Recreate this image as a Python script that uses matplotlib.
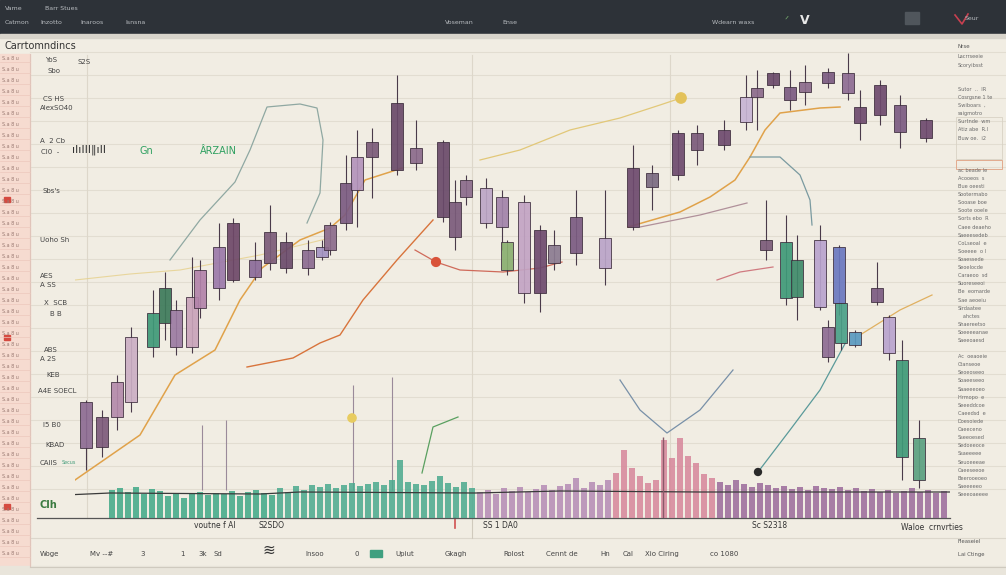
import matplotlib
matplotlib.use("Agg")
import matplotlib.pyplot as plt
from matplotlib.patches import Rectangle

# ---- data ----
# candles: session position, open, close, high, low (price units)
cdl_t = [86, 102, 117, 131, 153, 165, 176, 192, 200, 219, 233, 255, 270, 286, 308, 322,
         330, 346, 357, 372, 397, 416, 443, 455, 466, 486, 502, 507, 524, 540, 554, 576,
         605, 633, 652, 678, 697, 724, 746, 757, 773, 790, 805, 828, 848, 860, 880, 900,
         926, 766, 786, 797, 820, 839, 841, 828, 855, 877, 889, 902, 919]
cdl_open = [52, 53, 83, 98, 153, 177, 153, 153, 192, 212, 220, 223, 237, 232, 232, 243,
            250, 277, 310, 343, 330, 337, 283, 263, 303, 277, 273, 230, 207, 207, 237, 247,
            232, 273, 313, 325, 350, 355, 378, 403, 415, 400, 408, 417, 407, 377, 385, 368,
            362, 250, 202, 203, 193, 197, 157, 143, 155, 198, 147, 43, 20]
cdl_close = [98, 83, 118, 163, 187, 212, 190, 203, 230, 253, 277, 240, 268, 258, 250, 253,
             275, 317, 343, 358, 397, 352, 358, 298, 320, 312, 303, 258, 298, 270, 255, 283,
             262, 332, 327, 367, 367, 370, 403, 412, 427, 413, 418, 428, 427, 393, 415, 395,
             380, 260, 258, 240, 260, 253, 197, 173, 168, 212, 183, 140, 62]
cdl_high = [100, 90, 125, 173, 210, 228, 200, 243, 240, 277, 282, 258, 295, 268, 260, 260,
            278, 345, 370, 372, 425, 380, 360, 320, 325, 322, 310, 260, 305, 275, 270, 310,
            310, 355, 335, 370, 375, 380, 425, 430, 428, 430, 435, 432, 447, 410, 420, 405,
            382, 300, 285, 265, 275, 255, 197, 180, 170, 238, 185, 160, 80]
cdl_low = [30, 43, 70, 88, 143, 160, 145, 147, 182, 200, 218, 220, 230, 227, 225, 240,
           245, 270, 273, 302, 325, 330, 278, 250, 295, 272, 250, 225, 197, 188, 230, 235,
           215, 270, 290, 320, 335, 350, 370, 370, 412, 390, 395, 412, 400, 360, 375, 352,
           358, 240, 195, 180, 190, 185, 150, 138, 153, 195, 140, 20, 12]
cdl_colors = ["#8d6c93", "#7d5a7b", "#b48aab", "#cbaec4", "#3f9a78", "#3d7a5a", "#9b7ba2",
              "#c9a3ba", "#b283aa", "#9b79aa", "#6e4868", "#8b6b99", "#7b5b79", "#6b4b6b",
              "#8b6b91", "#a393c2", "#8b6b8b", "#7b5b81", "#b393bb", "#7b5b79", "#6a4a6a",
              "#8b6b8b", "#6a4a6a", "#7b5b7b", "#8b6b8b", "#bca6c6", "#a283aa", "#8ab070",
              "#c3a4c4", "#6e4a6e", "#8b7b91", "#7b5b81", "#baa4c8", "#6e4a6e", "#7b6b81",
              "#6e4a6e", "#7b5b7b", "#6e4a6e", "#c7b4d4", "#8b6b8b", "#6a4a6a", "#7b5b81",
              "#8b6b8b", "#7b5b81", "#8d6c93", "#6e4a6e", "#6e4a6e", "#7b5b81", "#6e4a6e",
              "#7b5b79", "#3f9a78", "#3f8a6a", "#b9a3ce", "#6a78c0", "#4aa088", "#8d6c93",
              "#5a9ac0", "#7b5b81", "#b9a3ce", "#3f9a78", "#5aa080"]

# moving averages / overlays (session, price)
ma_orange_t = [75, 140, 175, 215, 240, 262, 300, 330, 345, 365, 390, 402]
ma_orange_v = [20, 65, 125, 150, 200, 232, 260, 272, 285, 320, 328, 332]
ma_red_t = [247, 293, 320, 340, 363, 397, 433]
ma_red_v = [133, 142, 157, 165, 200, 240, 280]
sig_red_t = [415, 436, 460, 503, 540, 562]
sig_red_v = [250, 238, 230, 228, 232, 238]
ma_teal_t = [170, 200, 235, 250, 267, 300, 317, 323, 320, 307]
ma_teal_v = [240, 280, 318, 350, 393, 396, 392, 360, 307, 277]
ma_yellow_t = [75, 130, 180, 260, 330]
ma_yellow_v = [220, 226, 230, 245, 262]
ma_orange2_t = [628, 680, 710, 735, 750, 765, 780, 820, 840]
ma_orange2_v = [273, 288, 303, 320, 343, 370, 387, 392, 393]
ma_grey_t = [750, 780, 800, 810, 812]
ma_grey_v = [343, 343, 325, 300, 275]
ma_gold_t = [480, 520, 570, 620, 660, 681]
ma_gold_v = [340, 350, 370, 382, 395, 402]
ma_mauve_t = [640, 700, 747]
ma_mauve_v = [273, 285, 297]
ma_pink_t = [717, 740, 773]
ma_pink_v = [220, 228, 233]
ma_blue_t = [620, 640, 667, 700, 733]
ma_blue_v = [120, 90, 67, 90, 130]
ma_green_t = [758, 790, 820, 847]
ma_green_v = [28, 70, 110, 160]
ma_orange3_t = [860, 900, 932]
ma_orange3_v = [165, 190, 205]
sig_green_t = [422, 433, 458]
sig_green_v = [27, 73, 83]
dots_t = [436, 681, 352, 758]
dots_v = [238, 402, 82, 28]
dots_col = ["#d9533a", "#e3c25a", "#e8cc60", "#2a2a2a"]
spikes_t = [202, 226, 353, 392]
spikes_top = [75, 80, 115, 123]

# volume bars (session, volume)
vol_t = list(range(112, 945, 8))
vol = [28, 30, 26, 31, 24, 29, 27, 22, 25, 20, 24, 26, 23, 25, 24, 27, 22, 26, 28, 25,
       23, 30, 26, 32, 28, 33, 31, 34, 30, 33, 35, 32, 34, 36, 33, 38, 58, 36, 34, 33,
       37, 42, 35, 31, 36, 30, 26, 28, 24, 30, 27, 31, 26, 29, 33, 28, 32, 34, 40, 30,
       36, 33, 38, 45, 68, 50, 42, 35, 38, 78, 60, 80, 62, 55, 44, 40, 36, 33, 38, 34,
       31, 35, 33, 30, 32, 29, 31, 28, 32, 30, 29, 31, 28, 30, 27, 29, 26, 28, 25, 27,
       30, 26, 28, 25, 27]
vol_line_t = [65, 110, 260, 300, 475, 560, 700, 950]
vol_line_v = [23, 25, 24, 26, 25, 27, 26, 26]

x_labels = ["voutne f Al", "S2SDO", "SS 1 DA0", "Sc S2318"]
x_label_t = [215, 272, 500, 770]

BG = "#f1ede3"
fig = plt.figure(figsize=(10.06, 5.75), dpi=100, facecolor=BG)

# decoration layer in pixel space
bg = fig.add_axes([0, 0, 1, 1])
bg.set_xlim(0, 1006)
bg.set_ylim(575, 0)
bg.axis("off")
bg.set_facecolor(BG)

bg.add_patch(Rectangle((0, 0), 1006, 34, color="#2d3238"))
bg.add_patch(Rectangle((0, 34), 1006, 4, color="#d8d4cb"))
bg.add_patch(Rectangle((0, 54), 30, 512, color="#f6dbd0"))
bg.add_patch(Rectangle((0, 566), 1006, 9, color="#e9e5db"))

# horizontal rules
for y in range(52, 500, 23):
    bg.plot([30, 1006], [y, y], color="#e2ddd1", lw=0.8, zorder=1)
for x in [87, 472, 670]:
    bg.plot([x, x], [55, 518], color="#ddd7ca", lw=0.8, zorder=1)
bg.plot([37, 950], [518, 518], color="#555555", lw=0.9, zorder=3)
bg.plot([30, 1006], [538, 538], color="#dcd7cc", lw=0.8)
bg.plot([30, 1006], [567, 567], color="#cfcabf", lw=0.8)
bg.plot([30, 30], [54, 566], color="#e0c4ba", lw=0.8)

# left pink panel lines
for y in range(62, 560, 11):
    bg.plot([0, 30], [y, y], color="#ecc8bc", lw=0.5)
    bg.text(2, y - 2, "S.a 8 u", fontsize=3.5, color="#9a7a72")
for y in [200, 338, 507]:
    bg.add_patch(Rectangle((4, y - 3), 6, 5, color="#d64a40"))

# top bar text
top_items = [(5, 9, "Vame"), (45, 9, "Barr Stues"), (5, 23, "Catmon"), (40, 23, "Inzotto"),
             (80, 23, "Inaroos"), (125, 23, "Isnsna"), (445, 23, "Voseman"), (502, 23, "Ense"),
             (712, 23, "Wdearn waxs"), (965, 18, "Seur")]
for x, y, s in top_items:
    bg.text(x, y, s, fontsize=4.5, color="#b8bcc0", va="center")
bg.text(800, 20, "V", fontsize=9, color="#e8e8e8", weight="bold", va="center")
bg.text(785, 20, "ᐟ", fontsize=7, color="#7ab070", va="center")
bg.add_patch(Rectangle((905, 12), 14, 12, color="#50565c"))
bg.plot([955, 962, 968], [15, 24, 14], color="#c84050", lw=1.2)

# left labels
bg.text(5, 46, "Carrtomndincs", fontsize=7, color="#333333", va="center")
left_labels = [(45, 60, "YoS"), (78, 62, "S2S"), (48, 71, "Sbo"), (43, 99, "CS HS"),
               (40, 108, "AlexSO40"), (40, 141, "A  2 Cb"), (41, 152, "CI0  -"),
               (43, 191, "Sbs's"), (40, 240, "Uoho Sh"), (40, 276, "AES"), (40, 285, "A SS"),
               (44, 303, "X  SCB"), (50, 314, "B B"), (44, 350, "ABS"), (40, 359, "A 2S"),
               (46, 375, "KEB"), (38, 391, "A4E SOECL"), (43, 425, "I5 B0"),
               (45, 445, "KBAD"), (40, 463, "CAIIS")]
for x, y, s in left_labels:
    bg.text(x, y, s, fontsize=5, color="#444444", va="center")
bg.text(62, 463, "Secus", fontsize=3.5, color="#3f9a78", va="center")
bg.text(40, 505, "Clh", fontsize=7, color="#3a7a40", va="center", weight="bold")
bg.text(72, 150, "ılıIIl‖ıIl", fontsize=8, color="#333333", va="center")
bg.text(140, 151, "Gn", fontsize=7, color="#2fa060", va="center")
bg.text(200, 151, "ÂRZAIN", fontsize=7, color="#2fa060", va="center")

# x labels row
for t, s in zip(x_label_t, x_labels):
    bg.text(t, 525, s, fontsize=5.5, color="#333333", ha="center", va="center")
bg.text(932, 527, "Waloe  crnvrties", fontsize=5.5, color="#333333", ha="center", va="center")
bg.plot([455, 455], [518, 528], color="#d05050", lw=1.2)
bg.plot([472, 472], [518, 538], color="#d0cabd", lw=0.8)

# bottom toolbar
tool_items = [(40, "Woge"), (90, "Mv --#"), (140, "3"), (180, "1"), (198, "3k"), (214, "Sd"),
              (305, "Insoo"), (355, "0"), (395, "Upiut"), (445, "Gkagh"), (503, "Rolost"),
              (546, "Cennt de"), (600, "Hn"), (623, "Cal"), (645, "Xio Ciring"), (710, "co 1080")]
for x, s in tool_items:
    bg.text(x, 554, s, fontsize=5, color="#444444", va="center")
bg.text(262, 550, "≋", fontsize=11, color="#333333", va="center")
bg.add_patch(Rectangle((370, 550), 12, 7, color="#3fa080"))

# right sidebar
side_lines = ["Lacrrseeie", "Scoryibsst", "", "", "Sutor  ..  lR", "Cosrgsne 1 te",
              "Swiboars  ,", "saigmotro", "Surtnde  wm", "Atiz abe  R.l", "Buw oe.  i2",
              "", "", "", "ac beade le", "Acooeos  s", "Bue oeesti", "Sootermabo",
              "Sooase boe", "Soote ooele", "Sorts ebo  R", "Caee deaeho", "Saeeesedeb",
              "CoLseoal  e", "Soeeee  o l", "Soaessede", "Seoelocde", "Caraeoo  sd",
              "Suoreseeoi", "Be  eomarde", "Sae aeoeiu", "Sirdaatee", "   ahctes",
              "Shaereetso", "Soeeeeanae", "Saeeoaesd", "", "Ac  oeaoeie", "Ctanseoe",
              "Seoeoseeo", "Soaeeseeo", "Saaeeeoeo", "Hrmopo  e", "Seeeddcoe",
              "Caeedsd  e", "Doesoiede", "Caeeceno", "Sseeoesed", "Sedoeeoce",
              "Ssaeeeee", "Seuoeeeae", "Caeeseeoe", "Beerooeoeo", "Saeeeeeo",
              "Seeeoaeeee"]
for i, s in enumerate(side_lines):
    if s:
        bg.text(958, 57 + i * 8.1, s, fontsize=3.6, color="#6a6a6a", va="center")
bg.text(958, 46, "Nrse", fontsize=4, color="#555555", va="center")
bg.add_patch(Rectangle((956, 160), 46, 9, fill=False, ec="#e0a080", lw=0.6))
bg.add_patch(Rectangle((956, 117), 46, 42, fill=False, ec="#d8d2c5", lw=0.6))
bg.text(958, 543, "Fleaseiel", fontsize=3.8, color="#555555")
bg.text(958, 556, "Lai Ctinge", fontsize=3.8, color="#555555")

# main price axes
ax = fig.add_axes([75 / 1006, 75 / 575, 875 / 1006, 460 / 575])
ax.set_xlim(75, 950)
ax.set_ylim(0, 460)
ax.axis("off")
ax.patch.set_alpha(0)

ax.plot(ma_yellow_t, ma_yellow_v, color="#e6d08a", lw=0.8, alpha=0.8)
ax.plot(ma_teal_t, ma_teal_v, color="#8fa8a2", lw=0.9)
ax.plot(ma_orange_t, ma_orange_v, color="#e0a24a", lw=1.1)
ax.plot(ma_red_t, ma_red_v, color="#d8743c", lw=1.0)
ax.plot(sig_red_t, sig_red_v, color="#cf6a5a", lw=0.9)
ax.plot(ma_orange2_t, ma_orange2_v, color="#e0a24a", lw=1.1)
ax.plot(ma_grey_t, ma_grey_v, color="#7a9aa0", lw=0.9)
ax.plot(ma_gold_t, ma_gold_v, color="#e2c878", lw=0.9)
ax.plot(ma_mauve_t, ma_mauve_v, color="#b0909a", lw=0.9)
ax.plot(ma_pink_t, ma_pink_v, color="#d07a80", lw=0.9)
ax.plot(ma_blue_t, ma_blue_v, color="#7890a8", lw=0.9)
ax.plot(ma_green_t, ma_green_v, color="#5a9a9a", lw=0.9)
ax.plot(ma_orange3_t, ma_orange3_v, color="#e0b060", lw=0.9)
ax.plot(sig_green_t, sig_green_v, color="#5aa060", lw=0.9)
ax.vlines(spikes_t, 10, spikes_top, color="#9a8a9a", lw=0.8)

for t, o, c, h, l, col in zip(cdl_t, cdl_open, cdl_close, cdl_high, cdl_low, cdl_colors):
    ax.vlines(t, l, h, color="#4a3a4a", lw=0.8, zorder=3)
    ax.bar(t, c - o, bottom=o, width=12, color=col, edgecolor="#3a2a3a",
           linewidth=0.6, alpha=0.92, zorder=4)

ax.scatter(dots_t, dots_v, s=[40, 55, 35, 25], c=dots_col, zorder=5)

# volume axes
vx = fig.add_axes([75 / 1006, 57 / 575, 875 / 1006, 88 / 575])
vx.set_xlim(75, 950)
vx.set_ylim(0, 88)
vx.axis("off")
vx.patch.set_alpha(0)
vol_colors = []
for t in vol_t:
    if t < 280:
        vol_colors.append("#3fa887")
    elif t < 476:
        vol_colors.append("#4aa98e")
    elif t < 610:
        vol_colors.append("#b48ab4")
    elif t < 720:
        vol_colors.append("#d7869a")
    else:
        vol_colors.append("#9a6a9a")
vx.bar(vol_t, vol, width=6, color=vol_colors, alpha=0.85, linewidth=0)
vx.plot(vol_line_t, vol_line_v, color="#3a3a3a", lw=0.9)
vx.vlines([663], 0, 81, color="#8a5a6a", lw=1.0)

fig.savefig("out.png", dpi=100, facecolor=BG)
